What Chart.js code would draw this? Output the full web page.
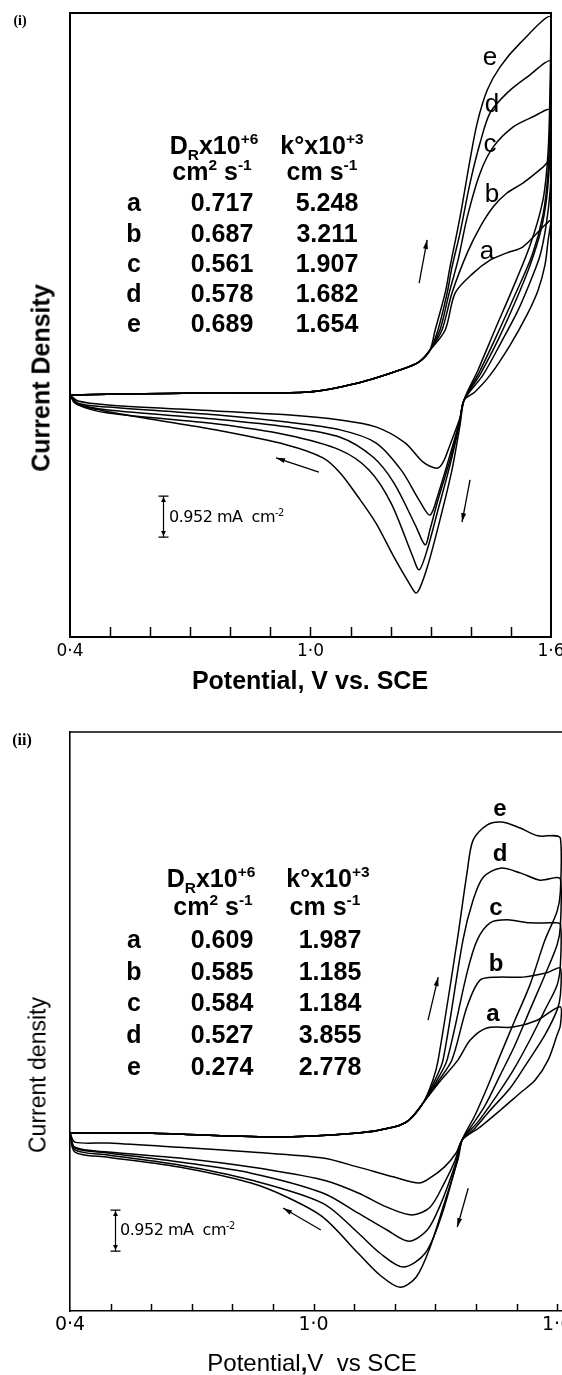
<!DOCTYPE html>
<html>
<head>
<meta charset="utf-8">
<script src="https://cdn.jsdelivr.net/npm/chart.js@4.4.1/dist/chart.umd.min.js"></script>
<style>
  body { margin: 0; background: #fff; }
  #wrap { position: relative; width: 562px; height: 1375px; overflow: hidden; background: #fff; }
  canvas { position: absolute; left: 0; }
  .t { position: absolute; transform: translate(-50%, -50%); white-space: nowrap; line-height: 1;
       color: #000; font-family: "Liberation Sans", Arial, sans-serif; }
  .left { transform: translate(0, -50%); }
  .rot { transform: translate(-50%, -50%) rotate(-90deg); }
  .serif { font-family: "Liberation Serif", "Times New Roman", serif; font-weight: bold; }
  sup, sub { font-size: 0.62em; line-height: 0; }
</style>
</head>
<body>
<div id="wrap">
  <canvas id="cvI" width="562" height="700" style="top:0"></canvas>
  <canvas id="cvII" width="562" height="675" style="top:700px"></canvas>
</div>
<script>
// ----- DATA -----
// potential (V vs SCE), current density (mA cm-2); each curve = forward scan then reverse scan
const curves = ['a', 'b', 'c', 'd', 'e']
const xTicks = [0.4, 0.5, 0.6, 0.7, 0.8, 0.9, 1.0, 1.1, 1.2, 1.3, 1.4, 1.5, 1.6]
const xTickLabels = { '0.4': '0·4', '1.0': '1·0', '1.6': '1·6' }

// panel (i)
const cvIa = [
  [0.400, 0.00], [0.525, 0.02], [0.762, 0.05], [0.994, 0.07], [1.119, 0.28], [1.223, 0.58], [1.271, 0.77], [1.298, 1.04],
  [1.336, 1.51], [1.361, 2.37], [1.406, 2.83], [1.448, 3.13], [1.490, 3.30], [1.530, 3.44], [1.580, 3.90], [1.600, 4.05],
  [1.593, 3.60], [1.585, 3.02], [1.568, 2.44], [1.540, 1.86], [1.498, 1.16], [1.448, 0.46], [1.410, 0.07], [1.383, -0.12],
  [1.373, -0.53], [1.348, -1.16], [1.331, -1.56], [1.316, -1.70], [1.281, -1.56], [1.236, -1.11], [1.163, -0.74], [1.074, -0.58],
  [0.941, -0.46], [0.762, -0.37], [0.495, -0.23], [0.420, -0.14], [0.400, 0.00]
]
const cvIb = [
  [0.400, 0.00], [0.525, 0.02], [0.762, 0.05], [0.994, 0.07], [1.119, 0.28], [1.223, 0.58], [1.271, 0.77], [1.298, 1.04],
  [1.328, 1.51], [1.353, 2.37], [1.391, 3.30], [1.423, 3.90], [1.456, 4.37], [1.490, 4.69], [1.530, 4.92], [1.580, 5.29], [1.600, 5.46],
  [1.598, 4.76], [1.588, 3.95], [1.573, 3.25], [1.550, 2.67], [1.518, 1.97], [1.475, 1.21], [1.430, 0.46], [1.383, -0.12],
  [1.373, -0.58], [1.348, -1.39], [1.318, -2.32], [1.298, -2.79], [1.271, -2.44], [1.226, -1.74], [1.163, -1.11], [1.074, -0.81],
  [0.941, -0.63], [0.762, -0.46], [0.495, -0.28], [0.420, -0.19], [0.400, 0.00]
]
const cvIc = [
  [0.400, 0.00], [0.525, 0.02], [0.762, 0.05], [0.994, 0.07], [1.119, 0.28], [1.223, 0.58], [1.271, 0.77], [1.298, 1.04],
  [1.323, 1.51], [1.346, 2.37], [1.368, 3.13], [1.391, 4.13], [1.423, 5.15], [1.456, 5.76], [1.505, 6.22], [1.555, 6.46], [1.600, 6.62],
  [1.598, 5.69], [1.590, 4.64], [1.575, 3.83], [1.548, 3.02], [1.513, 2.21], [1.470, 1.32], [1.425, 0.51], [1.383, -0.12],
  [1.371, -0.65], [1.348, -1.51], [1.318, -2.44], [1.298, -3.13], [1.286, -3.48], [1.263, -3.05], [1.208, -2.04], [1.156, -1.44],
  [1.074, -0.98], [0.941, -0.74], [0.762, -0.56], [0.495, -0.35], [0.420, -0.21], [0.400, 0.00]
]
const cvId = [
  [0.400, 0.00], [0.525, 0.02], [0.762, 0.05], [0.994, 0.07], [1.119, 0.28], [1.223, 0.58], [1.271, 0.77], [1.298, 1.04],
  [1.318, 1.51], [1.341, 2.37], [1.353, 2.97], [1.373, 3.76], [1.398, 4.92], [1.423, 5.85], [1.448, 6.55], [1.490, 7.01], [1.540, 7.38], [1.600, 7.75],
  [1.598, 6.62], [1.593, 5.22], [1.580, 4.18], [1.553, 3.25], [1.510, 2.32], [1.465, 1.39], [1.421, 0.53], [1.383, -0.12],
  [1.371, -0.70], [1.348, -1.63], [1.318, -2.67], [1.291, -3.60], [1.271, -4.06], [1.255, -3.75], [1.201, -2.51], [1.146, -1.74],
  [1.074, -1.28], [0.941, -0.93], [0.762, -0.67], [0.495, -0.42], [0.420, -0.23], [0.400, 0.00]
]
const cvIe = [
  [0.400, 0.00], [0.525, 0.02], [0.762, 0.05], [0.994, 0.07], [1.119, 0.28], [1.223, 0.58], [1.271, 0.77], [1.298, 1.04],
  [1.311, 1.51], [1.336, 2.37], [1.348, 2.97], [1.373, 4.13], [1.398, 5.46], [1.416, 6.32], [1.441, 7.08], [1.473, 7.62], [1.523, 8.17], [1.600, 8.78],
  [1.598, 7.31], [1.593, 5.69], [1.580, 4.53], [1.548, 3.48], [1.503, 2.44], [1.460, 1.51], [1.418, 0.58], [1.383, -0.12],
  [1.373, -0.70], [1.353, -1.74], [1.323, -2.90], [1.293, -3.95], [1.273, -4.48], [1.263, -4.60], [1.246, -4.37], [1.208, -3.76],
  [1.163, -2.97], [1.119, -2.37], [1.074, -1.81], [1.031, -1.46], [0.941, -1.16], [0.762, -0.81], [0.582, -0.53], [0.450, -0.30],
  [0.412, -0.19], [0.400, 0.00]
]
const drI = ['0.717', '0.687', '0.561', '0.578', '0.689']
const kI = ['5.248', '3.211', '1.907', '1.682', '1.654']

// panel (ii)
const cvIIa = [
  [0.400, 0.00], [0.580, 0.00], [0.898, -0.09], [1.110, 0.00], [1.198, 0.14], [1.235, 0.30], [1.270, 0.70],
  [1.314, 1.23], [1.356, 1.70], [1.386, 2.16], [1.427, 2.44], [1.492, 2.46], [1.551, 2.62], [1.608, 2.93],
  [1.608, 2.50], [1.600, 2.28], [1.578, 1.70], [1.546, 1.23], [1.509, 0.93], [1.460, 0.53], [1.410, 0.14], [1.366, -0.16],
  [1.352, -0.45], [1.322, -0.79], [1.287, -1.04], [1.260, -1.16], [1.198, -1.02], [1.110, -0.79], [1.023, -0.58],
  [0.846, -0.44], [0.669, -0.33], [0.494, -0.23], [0.412, -0.21], [0.400, 0.00]
]
const cvIIb = [
  [0.400, 0.00], [0.580, 0.00], [0.898, -0.09], [1.110, 0.00], [1.198, 0.14], [1.235, 0.30], [1.270, 0.70],
  [1.309, 1.23], [1.341, 1.70], [1.378, 2.93], [1.410, 3.55], [1.452, 3.62], [1.516, 3.62], [1.575, 3.72], [1.608, 3.83],
  [1.608, 3.20], [1.600, 2.86], [1.570, 2.28], [1.526, 1.63], [1.484, 1.04], [1.435, 0.53], [1.398, 0.12], [1.366, -0.16],
  [1.348, -0.65], [1.322, -1.16], [1.287, -1.72], [1.243, -1.90], [1.181, -1.72], [1.110, -1.39], [1.023, -1.09],
  [0.846, -0.79], [0.669, -0.58], [0.494, -0.44], [0.412, -0.33], [0.400, 0.00]
]
const cvIIc = [
  [0.400, 0.00], [0.580, 0.00], [0.898, -0.09], [1.110, 0.00], [1.198, 0.14], [1.235, 0.30], [1.270, 0.70],
  [1.304, 1.23], [1.329, 1.70], [1.378, 3.72], [1.403, 4.48], [1.435, 4.88], [1.477, 4.95], [1.533, 4.88], [1.590, 4.88], [1.608, 4.85],
  [1.608, 3.90], [1.600, 3.44], [1.570, 2.86], [1.533, 2.16], [1.492, 1.46], [1.447, 0.81], [1.405, 0.26], [1.366, -0.16],
  [1.350, -0.70], [1.314, -1.63], [1.280, -2.25], [1.235, -2.51], [1.181, -2.25], [1.110, -1.86], [1.023, -1.39],
  [0.846, -0.93], [0.669, -0.67], [0.494, -0.46], [0.412, -0.35], [0.400, 0.00]
]
const cvIId = [
  [0.400, 0.00], [0.580, 0.00], [0.898, -0.09], [1.110, 0.00], [1.198, 0.14], [1.235, 0.30], [1.270, 0.70],
  [1.299, 1.23], [1.319, 1.70], [1.368, 4.48], [1.393, 5.41], [1.418, 5.94], [1.460, 6.15], [1.509, 6.04], [1.558, 5.87], [1.608, 5.90],
  [1.608, 4.80], [1.600, 4.37], [1.570, 3.67], [1.533, 2.86], [1.496, 2.04], [1.460, 1.35], [1.423, 0.65], [1.386, 0.12], [1.366, -0.16],
  [1.352, -0.70], [1.314, -1.95], [1.275, -2.79], [1.221, -3.11], [1.164, -2.79], [1.110, -2.32], [1.023, -1.63],
  [0.846, -1.09], [0.669, -0.74], [0.494, -0.51], [0.412, -0.39], [0.400, 0.00]
]
const cvIIe = [
  [0.400, 0.00], [0.580, 0.00], [0.898, -0.09], [1.110, 0.00], [1.198, 0.14], [1.235, 0.30], [1.270, 0.70],
  [1.294, 1.23], [1.307, 1.70], [1.354, 4.48], [1.378, 6.04], [1.393, 6.80], [1.427, 7.15], [1.464, 7.22], [1.509, 7.08], [1.553, 6.90], [1.608, 6.85],
  [1.608, 5.60], [1.600, 5.15], [1.570, 4.48], [1.533, 3.44], [1.496, 2.62], [1.460, 1.81], [1.430, 1.11], [1.398, 0.42], [1.366, -0.16],
  [1.356, -0.60], [1.322, -1.63], [1.287, -2.65], [1.253, -3.34], [1.213, -3.58], [1.164, -3.30], [1.110, -2.79], [1.023, -1.95],
  [0.935, -1.49], [0.846, -1.16], [0.669, -0.79], [0.494, -0.56], [0.412, -0.44], [0.400, 0.00]
]
const drII = ['0.609', '0.585', '0.584', '0.527', '0.274']
const kII = ['1.987', '1.185', '1.184', '3.855', '2.778']

const scaleBar = 0.952 // mA cm-2

// ----- EXTRA MARKS (frame, inside ticks, scan arrows, scale bar) -----
function arrowHead(ctx, x0, y0, x1, y1, len, half) {
  const a = Math.atan2(y1 - y0, x1 - x0)
  ctx.beginPath()
  ctx.moveTo(x1, y1)
  ctx.lineTo(x1 - len * Math.cos(a) + half * Math.sin(a), y1 - len * Math.sin(a) - half * Math.cos(a))
  ctx.lineTo(x1 - len * Math.cos(a) - half * Math.sin(a), y1 - len * Math.sin(a) + half * Math.cos(a))
  ctx.closePath()
  ctx.fill()
}

const marks = {
  id: 'marks',
  afterDraw(chart, args, o) {
    const { ctx, chartArea: a, scales: { x, y } } = chart
    ctx.save()
    ctx.strokeStyle = '#000'
    ctx.fillStyle = '#000'
    // top (and right) edge of the box
    ctx.lineWidth = o.frame
    ctx.beginPath()
    ctx.moveTo(a.left, a.top)
    ctx.lineTo(a.right, a.top)
    if (o.rightEdge) ctx.lineTo(a.right, a.bottom)
    ctx.stroke()
    // minor ticks pointing inwards
    ctx.lineWidth = 1.5
    o.ticks.forEach((v) => {
      const px = Math.round(x.getPixelForValue(v)) + 0.5
      ctx.beginPath()
      ctx.moveTo(px, a.bottom)
      ctx.lineTo(px, a.bottom - o.tickLen)
      ctx.stroke()
    })
    // scan direction arrows
    ctx.lineWidth = 1.3
    o.arrows.forEach(([xa, ya, xb, yb]) => {
      const x0 = x.getPixelForValue(xa), y0 = y.getPixelForValue(ya)
      const x1 = x.getPixelForValue(xb), y1 = y.getPixelForValue(yb)
      ctx.beginPath()
      ctx.moveTo(x0, y0)
      ctx.lineTo(x1, y1)
      ctx.stroke()
      arrowHead(ctx, x0, y0, x1, y1, 9, 2.5)
    })
    // scale bar
    const bx = Math.round(x.getPixelForValue(o.bar[0])) + 0.5
    const yb = y.getPixelForValue(o.bar[1])
    const yt = y.getPixelForValue(o.bar[1] + scaleBar)
    ctx.lineWidth = 1.2
    ctx.beginPath()
    ctx.moveTo(bx, yb); ctx.lineTo(bx, yt)
    ctx.moveTo(bx - 5, yt); ctx.lineTo(bx + 5, yt)
    ctx.moveTo(bx - 5, yb); ctx.lineTo(bx + 5, yb)
    ctx.stroke()
    arrowHead(ctx, bx, yt + 8, bx, yt + 1, 5, 2.5)
    arrowHead(ctx, bx, yb - 8, bx, yb - 1, 5, 2.5)
    ctx.restore()
  }
}

// ----- CHART -----
function makeChart(el, sets, o) {
  return new Chart(el, {
    type: 'scatter',
    data: {
      datasets: sets.map((pts, i) => ({
        label: curves[i],
        data: pts.map(([x, y]) => ({ x, y })),
        showLine: true,
        borderColor: '#000',
        borderWidth: 1.5,
        pointRadius: 0,
        tension: 0.3,
        fill: false,
      })),
    },
    options: {
      responsive: false,
      animation: false,
      events: [],
      layout: { padding: o.pad },
      plugins: {
        legend: { display: false },
        tooltip: { enabled: false },
        marks: o.marks,
      },
      scales: {
        x: {
          type: 'linear',
          min: o.xr[0],
          max: o.xr[1],
          afterBuildTicks: (s) => { s.ticks = xTicks.map((v) => ({ value: v })) },
          afterFit: (s) => { s.height = o.xh; s.paddingLeft = 0; s.paddingRight = 0 },
          grid: { display: false, drawTicks: false },
          border: { color: '#000', width: o.marks.frame },
          ticks: {
            padding: o.tickPad,
            color: '#000',
            autoSkip: false,
            maxRotation: 0,
            font: { family: 'DejaVu Sans', size: o.tickSize, weight: o.tickWeight },
            callback: (v) => xTickLabels[Number(v).toFixed(1)] || '',
          },
        },
        y: {
          type: 'linear',
          min: o.yr[0],
          max: o.yr[1],
          afterFit: (s) => { s.width = 70; s.paddingTop = 0; s.paddingBottom = 0 },
          grid: { display: false, drawTicks: false },
          border: { color: '#000', width: o.marks.frame },
          ticks: { display: false },
        },
      },
    },
    plugins: [marks],
  })
}

makeChart(document.getElementById('cvI'), [cvIa, cvIb, cvIc, cvId, cvIe], {
  pad: { top: 13, right: 11, left: 0, bottom: 0 },
  xr: [0.4, 1.6],
  yr: [-5.62, 8.87],
  xh: 63,
  tickPad: 4,
  tickSize: 17,
  tickWeight: 'normal',
  marks: {
    frame: 2,
    rightEdge: true,
    tickLen: 10,
    ticks: [0.5, 0.6, 0.7, 0.8, 0.9, 1.0, 1.1, 1.2, 1.3, 1.4, 1.5],
    arrows: [[1.271, 2.60, 1.291, 3.60], [1.021, -1.79, 0.914, -1.46], [1.398, -1.97, 1.378, -2.95]],
    bar: [0.632, -3.30],
  },
})

makeChart(document.getElementById('cvII'), [cvIIa, cvIIb, cvIIc, cvIId, cvIIe], {
  pad: { top: 32, right: 0, left: 0, bottom: 0 },
  xr: [0.4, 1.612],
  yr: [-4.13, 9.31],
  xh: 64,
  tickPad: 3,
  tickSize: 19,
  tickWeight: 'normal',
  marks: {
    frame: 1.6,
    rightEdge: false,
    tickLen: 7,
    ticks: [0.5, 0.6, 0.7, 0.8, 0.9, 1.0, 1.1, 1.2, 1.3, 1.4, 1.5, 1.6],
    arrows: [[1.282, 2.62, 1.307, 3.62], [1.018, -2.25, 0.925, -1.74], [1.381, -1.28, 1.354, -2.18]],
    bar: [0.511, -2.74],
  },
})

// ----- TEXT OVERLAY -----
const wrap = document.getElementById('wrap')
function put(html, x, y, style, cls) {
  const d = document.createElement('div')
  d.className = 't' + (cls ? ' ' + cls : '')
  d.innerHTML = html
  d.style.left = x + 'px'
  d.style.top = y + 'px'
  if (style) d.style.cssText += style
  wrap.appendChild(d)
  return d
}

function table(dr, k, o) {
  const b = 'font-weight:bold;font-size:' + o.size + 'px;'
  put('D<sub>R</sub>x10<sup>+6</sup>', o.h1[0], o.hy[0], b)
  put('k°x10<sup>+3</sup>', o.h2[0], o.hy[0], b)
  put('cm<sup>2</sup> s<sup>-1</sup>', o.h1[1], o.hy[1], b)
  put('cm s<sup>-1</sup>', o.h2[1], o.hy[1], b)
  curves.forEach((c, i) => {
    const y = o.rows[i]
    put(c, o.cols[0], y, b)
    put(dr[i], o.cols[1], y, b)
    put(k[i], o.cols[2], y, b)
  })
}

// panel (i)
put('(i)', 20, 21, 'font-size:14px;', 'serif')
put('Current Density', 41, 378, 'font-weight:bold;font-size:25px;', 'rot')
put('Potential, V vs. SCE', 310, 680, 'font-weight:bold;font-size:25px;')
table(drI, kI, { size: 25, h1: [214, 212], h2: [322, 322], hy: [145, 171], cols: [134, 222, 327], rows: [202, 233, 263, 293, 323] })
const labI = [[487, 250], [492, 193], [490, 143], [492, 103], [490, 56]]
curves.forEach((c, i) => put(c, labI[i][0], labI[i][1], 'font-size:26px;'))
put('0.952&nbsp;mA&nbsp;&nbsp;cm<sup>-2</sup>', 169, 517, 'font-size:16px;font-family:\'DejaVu Sans\';letter-spacing:-0.5px;', 'left')

// panel (ii)
put('(ii)', 22, 740, 'font-size:16px;', 'serif')
put('Current density', 38, 1075, 'font-size:23px;', 'rot')
put('Potential<b>,</b>V&nbsp;&nbsp;vs SCE', 312, 1363, 'font-size:24px;')
table(drII, kII, { size: 25, h1: [211, 213], h2: [328, 325], hy: [878, 906], cols: [134, 222, 330], rows: [939, 971, 1002, 1034, 1066] })
const labII = [[493, 1013], [496, 963], [496, 907], [500, 853], [500, 808]]
curves.forEach((c, i) => put(c, labII[i][0], labII[i][1], 'font-weight:bold;font-size:24px;'))
put('0.952&nbsp;mA&nbsp;&nbsp;cm<sup>-2</sup>', 120, 1230, 'font-size:16px;font-family:\'DejaVu Sans\';letter-spacing:-0.5px;', 'left')
</script>
</body>
</html>
